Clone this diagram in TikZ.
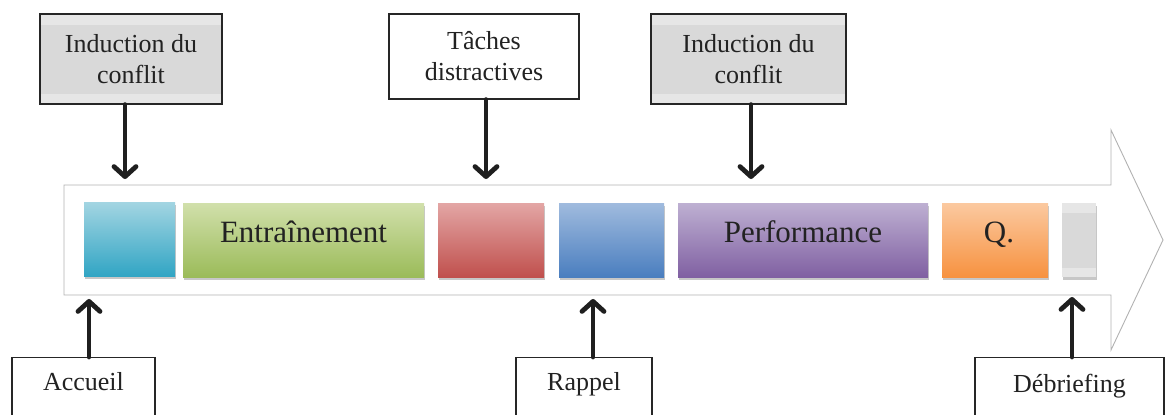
\documentclass[tikz,border=0pt]{standalone}
\usepackage{fontspec}
\setmainfont{Liberation Serif}
\usetikzlibrary{arrows.meta,shadows}
\definecolor{bandgray}{HTML}{E6E6E6}
\definecolor{midgray}{HTML}{D9D9D9}
\definecolor{txt}{HTML}{222222}
\tikzset{
  lbl/.style={draw=black!85, line width=1.2pt, inner sep=0pt, align=center,
    font=\fontsize{26}{31}\selectfont, text=txt},
  graylbl/.style={lbl, fill=midgray, path picture={
      \fill[bandgray] (path picture bounding box.north west) rectangle ([yshift=-11pt]path picture bounding box.north east);
      \fill[bandgray] (path picture bounding box.south west) rectangle ([yshift=10pt]path picture bounding box.south east);}},
  frame/.style={draw=black!85, line width=1.2pt, inner sep=0pt, anchor=north, minimum height=100pt},
  lbltext/.style={inner sep=0pt, anchor=base, font=\fontsize{26}{31}\selectfont, text=txt},
  phase/.style={inner sep=0pt, minimum height=74pt, shading=axis, shading angle=0,
    drop shadow={shadow xshift=1pt, shadow yshift=-3pt, opacity=0.22, fill=black}},
  phasetext/.style={inner sep=0pt, anchor=base, font=\fontsize{31}{36}\selectfont, text=txt},
  bigarrow/.style={draw=black!30, line width=0.9pt, fill=white},
  conn/.style={line width=4.8pt, draw=black!88, line cap=round,
    -{Straight Barb[length=10pt,width=22pt,round]}},
}
\begin{document}
\begin{tikzpicture}[x=1pt,y=-1pt]
\useasboundingbox (0,0) rectangle (1165,415);
\clip (0,0) rectangle (1165,415);

% big timeline arrow
\draw[bigarrow] (64,185) -- (1111,185) -- (1111,130) -- (1163,240) -- (1111,350) -- (1111,295) -- (64,295) -- cycle;

% phase boxes
\node[phase, minimum width=91pt, top color={rgb,255:red,163;green,213;blue,226}, bottom color={rgb,255:red,49;green,165;blue,196}] (acc) at (129.5,239) {};
\node[phase, minimum width=241pt, top color={rgb,255:red,209;green,224;blue,171}, bottom color={rgb,255:red,155;green,187;blue,89}] (ent) at (303.5,240) {};
\node[phase, minimum width=106pt, top color={rgb,255:red,227;green,166;blue,165}, bottom color={rgb,255:red,192;green,80;blue,77}] (dis) at (491,240) {};
\node[phase, minimum width=105pt, top color={rgb,255:red,160;green,187;blue,222}, bottom color={rgb,255:red,74;green,126;blue,191}] (rap) at (611.5,240) {};
\node[phase, minimum width=250pt, top color={rgb,255:red,190;green,176;blue,210}, bottom color={rgb,255:red,128;green,96;blue,162}] (perf) at (803,240) {};
\node[phase, minimum width=106pt, top color={rgb,255:red,251;green,201;blue,160}, bottom color={rgb,255:red,247;green,146;blue,64}] (q) at (995,240) {};
\node[inner sep=0pt, minimum width=34pt, minimum height=74pt, fill=midgray,
  drop shadow={shadow xshift=1pt, shadow yshift=-3pt, opacity=0.22, fill=black},
  path picture={
    \fill[bandgray] (path picture bounding box.north west) rectangle ([yshift=-10pt]path picture bounding box.north east);
    \fill[bandgray] (path picture bounding box.south west) rectangle ([yshift=9pt]path picture bounding box.south east);}] (deb) at (1079,240) {};

\node[phasetext] (entT) at ([yshift=-2pt]ent.center) {Entraînement};
\node[phasetext] (perfT) at ([yshift=-2pt]perf.center) {Performance};
\node[phasetext] (qT) at ([yshift=-2pt,xshift=4pt]q.center) {Q.};

% top labels
\node[graylbl, minimum width=182pt, minimum height=90pt] (ind1) at (131,59) {Induction du\\conflit};
\node[lbl, minimum width=190pt, minimum height=85pt] (tach) at (484,56.5) {Tâches\\distractives};
\node[graylbl, minimum width=195pt, minimum height=90pt] (ind2) at (748.5,59) {Induction du\\conflit};

% bottom labels (cut by the page edge)
\node[frame, minimum width=143pt] (accF) at (83.5,357) {};
\node[lbltext] (accL) at (83.5,390) {Accueil};
\node[frame, minimum width=136pt] (rapF) at (584,357) {};
\node[lbltext] (rapL) at (584,390) {Rappel};
\node[frame, minimum width=189pt] (debF) at (1069.5,357) {};
\node[lbltext] (debL) at (1069.5,392) {Débriefing};

% connector end points on the timeline
\coordinate (t1) at (125,179);
\coordinate (t2) at (486,179);
\coordinate (t3) at (751,179);
\coordinate (b1) at (89,299);
\coordinate (b2) at (593,299);
\coordinate (b3) at (1072,297);

\draw[conn] (t1 |- ind1.south) -- (t1);
\draw[conn] (t2 |- tach.south) -- (t2);
\draw[conn] (t3 |- ind2.south) -- (t3);
\draw[conn] (b1 |- accF.north) -- (b1);
\draw[conn] (b2 |- rapF.north) -- (b2);
\draw[conn] (b3 |- debF.north) -- (b3);
\end{tikzpicture}
\end{document}
